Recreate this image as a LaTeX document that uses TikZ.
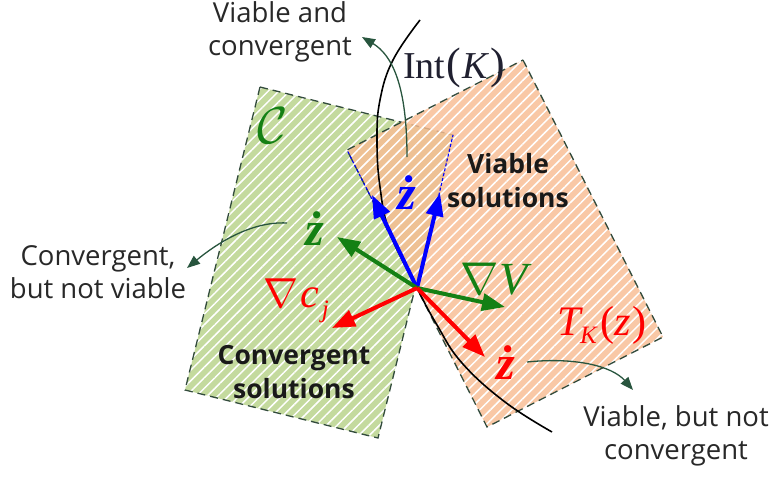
\RequirePackage{fix-cm}
\documentclass[tikz,border=0pt]{standalone}
\usepackage{fontspec}
\setsansfont{Open Sans}
\newfontfamily\tms{Liberation Serif}
\usetikzlibrary{patterns.meta,arrows.meta}
\definecolor{gfill}{RGB}{196,218,158}
\definecolor{ofill}{RGB}{248,188,146}
\definecolor{bord}{RGB}{50,75,60}
\definecolor{connc}{RGB}{40,85,62}
\definecolor{txt}{RGB}{40,40,40}
\definecolor{vgreen}{RGB}{20,128,20}
\definecolor{intc}{RGB}{32,32,48}
\begin{document}
\begin{tikzpicture}[x=1pt,y=-1pt,
  region/.style={draw=bord, line width=1.3pt, dash pattern=on 8pt off 5pt,
    pattern={Lines[angle=45,distance=7.5pt,line width=1.5pt]}, pattern color=white},
  vec/.style={line width=4pt, -{Triangle[length=23pt,width=17pt]}},
  connarrow/.style={draw=connc, line width=1.3pt, -{Triangle[length=13pt,width=10pt]}},
  lab/.style={font=\sffamily\fontsize{27.5}{33}\selectfont, text=txt, align=center},
  blab/.style={font=\sffamily\bfseries\fontsize{26.5}{34}\selectfont, text=black!90, align=center},
  conedge/.style={draw=blue, line width=1.1pt, dash pattern=on 3pt off 2pt}]
\useasboundingbox (0,0) rectangle (775,476);
% corners
\coordinate (gA) at (260,87);  \coordinate (gB) at (453,135);
\coordinate (gC) at (378,438); \coordinate (gD) at (185,390);
\coordinate (oP) at (523,60);  \coordinate (oQ) at (663,337);
\coordinate (oR) at (487,427); \coordinate (oS) at (347,150);
\coordinate (O) at (417,288);
% regions
\path[region, preaction={fill=gfill}] (gA) -- (gB) -- (gC) -- (gD) -- cycle;
\path[region, preaction={fill=ofill, fill opacity=0.82}] (oP) -- (oQ) -- (oR) -- (oS) -- cycle;
\draw[conedge] (O) -- (oS);
\draw[conedge] (O) -- (gB);
% boundary of K
\draw[line width=1.6pt, black] plot[smooth, tension=0.7] coordinates {(420,20) (393,60) (380,100) (377,140) (380,187) (390,233) (417,288) (437,325) (462,363) (505,402) (552,432)};
% vectors
\coordinate (tbl) at (372,195); \coordinate (tbr) at (440,193);
\coordinate (tgz) at (337,237); \coordinate (tgv) at (505,307);
\coordinate (trc) at (332,328); \coordinate (trz) at (485,357);
\draw[vec, blue] (O) -- (tbl);
\draw[vec, blue] (O) -- (tbr);
\draw[vec, vgreen] (O) -- (tgz);
\draw[vec, vgreen] (O) -- (tgv);
\draw[vec, red] (O) -- (trc);
\draw[vec, red] (O) -- (trz);
% labels
\node[lab] (vc) at (280,32) {Viable and\\convergent};
\node[lab] (cnv) at (98,272) {Convergent,\\but not viable};
\node[lab] (vnc) at (676,436) {Viable, but not\\convergent};
\node[blab] (vs) at (508,181) {Viable\\solutions};
\node[blab] (cs) at (294,372) {Convergent\\solutions};
\node[text=intc] (intk) at (454,68) {\fontsize{38}{38}\selectfont\tms Int\kern1pt{\fontsize{44}{44}\selectfont(}\kern1pt\textit{K}\kern1pt{\fontsize{44}{44}\selectfont)}};
\node[text=vgreen] (cset) at (273,126) {\fontsize{52}{52}\selectfont$\mathcal{C}$};
\node[text=blue] (bz) at (407,193) {\fontsize{48}{48}\selectfont\tms\bfseries\itshape ż};
\node[text=vgreen] (gz) at (315,229) {\fontsize{48}{48}\selectfont\tms\bfseries\itshape ż};
\node[text=red] (rz) at (506,363) {\fontsize{48}{48}\selectfont\tms\bfseries\itshape ż};
\node[text=vgreen] (gradv) at (494,279) {\fontsize{46}{46}\selectfont$\nabla$\kern1pt{\tms\itshape V}};
\node[text=red] (gradc) at (296,301) {\fontsize{42}{42}\selectfont$\nabla$\kern2pt{\tms\itshape c}\kern3pt\raisebox{-10pt}{\fontsize{25}{25}\selectfont\tms\itshape j}};
\node[text=red] (tk) at (602,325) {\fontsize{42}{42}\selectfont\tms\itshape T\kern-1pt\raisebox{-8pt}{\fontsize{25}{25}\selectfont K}\kern4pt\upshape(\itshape z\kern1pt\upshape)};
% connectors
\coordinate (c1s) at (407,157); \coordinate (c1e) at (362,37);
\coordinate (c2s) at (287,223); \coordinate (c2e) at (187,268);
\coordinate (c3s) at (527,362); \coordinate (c3e) at (633,390);
\draw[connarrow] (c1s) .. controls (407,85) and (392,55) .. (c1e);
\draw[connarrow] (c2s) .. controls (250,221) and (215,245) .. (c2e);
\draw[connarrow] (c3s) .. controls (575,357) and (612,366) .. (c3e);
\end{tikzpicture}
\end{document}
